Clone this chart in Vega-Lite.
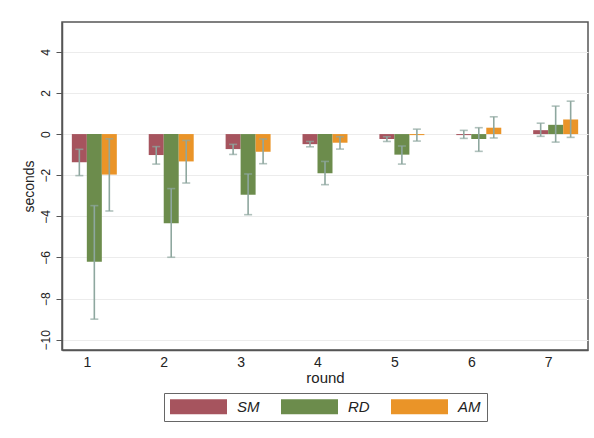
{
  "$schema": "https://vega.github.io/schema/vega-lite/v6.json",
  "width": 526,
  "height": 328,
  "autosize": {"type": "none"},
  "padding": {"left": 62, "top": 22, "right": 6, "bottom": 88},
  "background": "white",
  "data": {
    "values": [
      {"round": "1", "series": "SM", "mean": -1.37, "lo": -2.02, "hi": -0.74},
      {"round": "1", "series": "RD", "mean": -6.21, "lo": -9.0, "hi": -3.48},
      {"round": "1", "series": "AM", "mean": -1.97, "lo": -3.74, "hi": -0.23},
      {"round": "2", "series": "SM", "mean": -1.02, "lo": -1.46, "hi": -0.61},
      {"round": "2", "series": "RD", "mean": -4.34, "lo": -5.99, "hi": -2.65},
      {"round": "2", "series": "AM", "mean": -1.33, "lo": -2.38, "hi": -0.31},
      {"round": "3", "series": "SM", "mean": -0.73, "lo": -0.99, "hi": -0.5},
      {"round": "3", "series": "RD", "mean": -2.95, "lo": -3.92, "hi": -1.94},
      {"round": "3", "series": "AM", "mean": -0.86, "lo": -1.44, "hi": -0.24},
      {"round": "4", "series": "SM", "mean": -0.49, "lo": -0.62, "hi": -0.36},
      {"round": "4", "series": "RD", "mean": -1.91, "lo": -2.46, "hi": -1.33},
      {"round": "4", "series": "AM", "mean": -0.42, "lo": -0.73, "hi": -0.13},
      {"round": "5", "series": "SM", "mean": -0.24, "lo": -0.36, "hi": -0.13},
      {"round": "5", "series": "RD", "mean": -1.0, "lo": -1.46, "hi": -0.58},
      {"round": "5", "series": "AM", "mean": -0.05, "lo": -0.34, "hi": 0.24},
      {"round": "6", "series": "SM", "mean": -0.05, "lo": -0.21, "hi": 0.18},
      {"round": "6", "series": "RD", "mean": -0.24, "lo": -0.84, "hi": 0.31},
      {"round": "6", "series": "AM", "mean": 0.31, "lo": -0.19, "hi": 0.84},
      {"round": "7", "series": "SM", "mean": 0.19, "lo": -0.11, "hi": 0.53},
      {"round": "7", "series": "RD", "mean": 0.45, "lo": -0.39, "hi": 1.36},
      {"round": "7", "series": "AM", "mean": 0.71, "lo": -0.16, "hi": 1.6}
    ]
  },
  "encoding": {
    "x": {
      "field": "round",
      "type": "nominal",
      "scale": {"paddingInner": 0.415, "paddingOuter": 0.128},
      "axis": {
        "title": "round",
        "labelAngle": 0,
        "ticks": false,
        "labelOffset": -7,
        "labelPadding": 5,
        "labelFontSize": 14,
        "titleFontSize": 15,
        "titlePadding": 1,
        "titleFontWeight": "normal",
        "domainColor": "#555555",
        "domainWidth": 1.5
      }
    },
    "xOffset": {"field": "series", "type": "nominal", "sort": ["SM", "RD", "AM"]}
  },
  "layer": [
    {
      "mark": {"type": "bar"},
      "encoding": {
        "y": {
          "field": "mean",
          "type": "quantitative",
          "scale": {"domain": [-10.5, 5.45], "nice": false},
          "axis": {
            "title": "seconds",
            "values": [-10, -8, -6, -4, -2, 0, 2, 4],
            "labelAngle": 270,
            "labelAlign": "center",
            "labelBaseline": "bottom",
            "labelPadding": 4,
            "labelFontSize": 12,
            "tickSize": 6,
            "tickColor": "#555555",
            "titleFontSize": 14,
            "titleFontWeight": "normal",
            "titlePadding": 3,
            "grid": true,
            "gridColor": "#ececec",
            "gridWidth": 1.2,
            "domainColor": "#555555",
            "domainWidth": 1.5
          }
        },
        "color": {
          "field": "series",
          "type": "nominal",
          "sort": ["SM", "RD", "AM"],
          "scale": {"domain": ["SM", "RD", "AM"], "range": ["#a6545e", "#6c8c4c", "#ea9428"]},
          "legend": {
            "title": null,
            "orient": "none",
            "direction": "horizontal",
            "legendX": 102,
            "legendY": 371,
            "padding": 6,
            "strokeColor": "#666666",
            "symbolType": "M-3.8,-1H3.8V1H-3.8Z",
            "symbolSize": 225,
            "symbolOffset": 21,
            "symbolStrokeWidth": 0,
            "symbolOpacity": 1,
            "labelFontSize": 15,
            "labelFontStyle": "italic",
            "labelOffset": 31,
            "columnPadding": 21,
            "labelColor": "#222222"
          }
        }
      }
    },
    {
      "mark": {"type": "rule", "color": "#8ea79f", "strokeWidth": 1.6},
      "encoding": {
        "y": {"field": "lo", "type": "quantitative"},
        "y2": {"field": "hi"}
      }
    },
    {
      "mark": {"type": "tick", "color": "#8ea79f", "thickness": 1.6, "size": 8, "orient": "horizontal"},
      "encoding": {"y": {"field": "lo", "type": "quantitative"}}
    },
    {
      "mark": {"type": "tick", "color": "#8ea79f", "thickness": 1.6, "size": 8, "orient": "horizontal"},
      "encoding": {"y": {"field": "hi", "type": "quantitative"}}
    }
  ],
  "config": {
    "font": "Liberation Sans",
    "view": {"stroke": "#555555", "strokeWidth": 1.5},
    "axis": {"labelColor": "#222222", "titleColor": "#222222"}
  }
}
